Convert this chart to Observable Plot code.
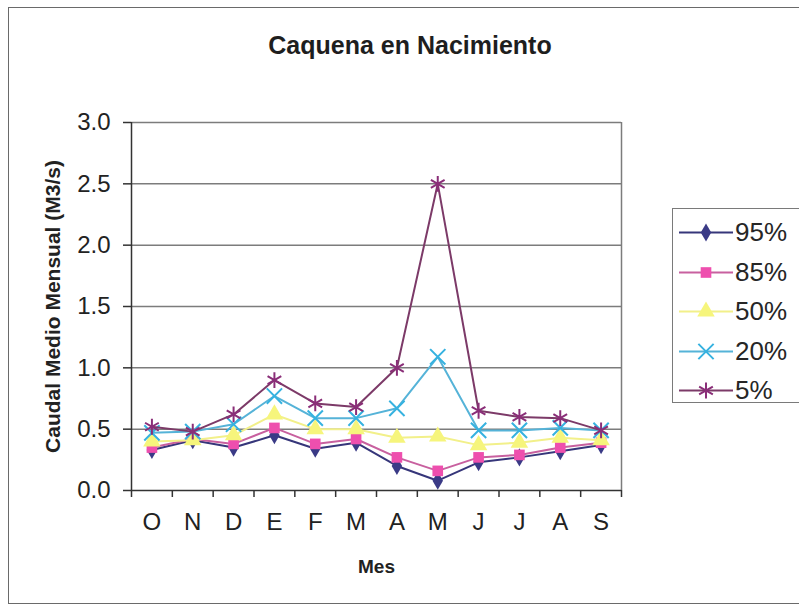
<!DOCTYPE html>
<html><head><meta charset="utf-8">
<script src="https://cdn.jsdelivr.net/npm/d3@7"></script>
<script src="https://cdn.jsdelivr.net/npm/@observablehq/plot@0.6"></script>
<style>
body{margin:0;background:#fff;font-family:"Liberation Sans",Arial,sans-serif;}
#wrap{position:relative;width:799px;height:610px;overflow:hidden;background:#fff;}
#frame{position:absolute;left:8px;top:7px;width:830px;height:597px;border:1.5px solid #6a6a6a;box-sizing:border-box;}
#chart{position:absolute;left:0;top:0;}
#title{position:absolute;left:0;width:820px;top:33px;line-height:25px;text-align:center;font-weight:bold;font-size:25px;color:#1e1e1e;}
#legend{position:absolute;left:672px;top:208px;width:160px;height:195px;border:1.5px solid #7a7a7a;box-sizing:border-box;background:#fff;}
.row{position:absolute;left:0;width:160px;height:25px;}
.row svg{position:absolute;left:6px;top:0;}
.row span{position:absolute;left:62px;top:0;font-size:26px;line-height:25px;color:#262626;}
</style>
</head><body>
<div id="wrap">
  <div id="frame"></div>
  <div id="chart"></div>
  <div id="title">Caquena en Nacimiento</div>
  <div id="legend"></div>
</div>
<script>
// ---- data ----
const months = ["O","N","D","E","F","M","A","M","J","J","A","S"];
const yTicks = [0, 0.5, 1.0, 1.5, 2.0, 2.5, 3.0];
const seriesNames = ["95%","85%","50%","20%","5%"];
const p95 = [0.33, 0.41, 0.35, 0.45, 0.34, 0.39, 0.20, 0.08, 0.23, 0.27, 0.32, 0.37];
const p85 = [0.35, 0.42, 0.38, 0.51, 0.38, 0.42, 0.27, 0.16, 0.27, 0.29, 0.35, 0.39];
const p50 = [0.40, 0.41, 0.45, 0.62, 0.50, 0.50, 0.43, 0.44, 0.37, 0.39, 0.43, 0.41];
const p20 = [0.47, 0.48, 0.54, 0.77, 0.59, 0.59, 0.67, 1.09, 0.49, 0.49, 0.51, 0.49];
const p5  = [0.52, 0.48, 0.62, 0.90, 0.71, 0.68, 1.00, 2.50, 0.65, 0.60, 0.59, 0.49];
const yLabel = "Caudal Medio Mensual (M3/s)";
const xLabel = "Mes";

// ---- styles ----
const styles = [
  {values: p95, line: "#36367a", mark: "#3a3a86", symbol: "diamond", d3s: d3.symbolDiamond, r: 5.5, filled: true},
  {values: p85, line: "#c8609f", mark: "#ee4fae", symbol: "square", d3s: d3.symbolSquare, r: 6, filled: true},
  {values: p50, line: "#f2f08a", mark: "#f6f57c", symbol: "triangle", d3s: d3.symbolTriangle, r: 6.5, filled: true},
  {values: p20, line: "#55b3d8", mark: "#36b2e0", symbol: "times", d3s: d3.symbolTimes, r: 7, filled: false},
  {values: p5,  line: "#7c3a68", mark: "#8a2e78", symbol: "asterisk", d3s: d3.symbolAsterisk, r: 7.5, filled: false}
];

const boundaries = d3.range(months.length + 1).map(i => i - 0.5);
const font = '"Liberation Sans", Arial, sans-serif';

const seriesMarks = [];
styles.forEach((s, k) => {
  const rows = s.values.map((v, i) => ({i, v}));
  seriesMarks.push(Plot.line(rows, {x: "i", y: "v", stroke: s.line, strokeWidth: 2}));
  seriesMarks.push(Plot.dot(rows, s.filled
    ? {x: "i", y: "v", symbol: () => s.symbol, r: s.r, fill: s.mark, stroke: "none"}
    : {x: "i", y: "v", symbol: () => s.symbol, r: s.r, fill: "none", stroke: s.mark, strokeWidth: 2}));
});

const chart = Plot.plot({
  width: 799, height: 610,
  marginLeft: 131, marginRight: 178, marginTop: 122, marginBottom: 120,
  x: {domain: [-0.5, months.length - 0.5], axis: null},
  y: {domain: [0, 3], axis: null},
  symbol: {type: "identity"},
  style: {fontFamily: font, background: "transparent", overflow: "visible", color: "#222"},
  marks: [
    Plot.ruleY(yTicks.filter(d => d > 0), {y: d => d, stroke: "#7c7c7c", strokeWidth: 1.5}),
    Plot.ruleX([months.length - 0.5], {x: d => d, stroke: "#7c7c7c", strokeWidth: 1.5}),
    Plot.ruleY(yTicks, {y: d => d, x1: -0.5, x2: -0.5, insetLeft: -8, stroke: "#333", strokeWidth: 1.5}),
    Plot.ruleX(boundaries, {x: d => d, y1: 0, y2: 0, insetTop: 7, stroke: "#333", strokeWidth: 1.5}),
    Plot.ruleX([-0.5], {x: d => d, stroke: "#333", strokeWidth: 1.5}),
    Plot.ruleY([0], {y: d => d, stroke: "#333", strokeWidth: 1.5}),
    Plot.text(yTicks, {y: d => d, frameAnchor: "left", textAnchor: "end", dx: -21, text: d => d.toFixed(1), fontSize: 24, fill: "#222"}),
    Plot.text(months, {x: (d, i) => i, text: d => d, frameAnchor: "bottom", dy: 39, fontSize: 24, fill: "#222"}),
    Plot.text([xLabel], {text: d => d, frameAnchor: "bottom", dy: 82, fontSize: 19, fontWeight: "bold", fill: "#222"}),
    Plot.text([yLabel], {text: d => d, frameAnchor: "left", textAnchor: "middle", rotate: -90, dx: -78, fontSize: 21, fontWeight: "bold", fill: "#222"}),
    ...seriesMarks
  ]
});
document.getElementById("chart").appendChild(chart);

// ---- legend ----
const legend = d3.select("#legend");
const rowCenters = [25, 65, 104, 144, 183];
styles.forEach((s, k) => {
  const row = legend.append("div").attr("class", "row").style("top", (rowCenters[k] - 12.5 - 1.5) + "px");
  const svg = row.append("svg").attr("width", 54).attr("height", 25);
  svg.append("line").attr("x1", 0).attr("x2", 54).attr("y1", 12.5).attr("y2", 12.5)
    .attr("stroke", s.line).attr("stroke-width", 2);
  const path = svg.append("path")
    .attr("d", d3.symbol(s.d3s, Math.PI * s.r * s.r)())
    .attr("transform", "translate(27,12.5)");
  if (s.filled) path.attr("fill", s.mark);
  else path.attr("fill", "none").attr("stroke", s.mark).attr("stroke-width", 2);
  row.append("span").text(seriesNames[k]);
});
</script>
</body></html>
